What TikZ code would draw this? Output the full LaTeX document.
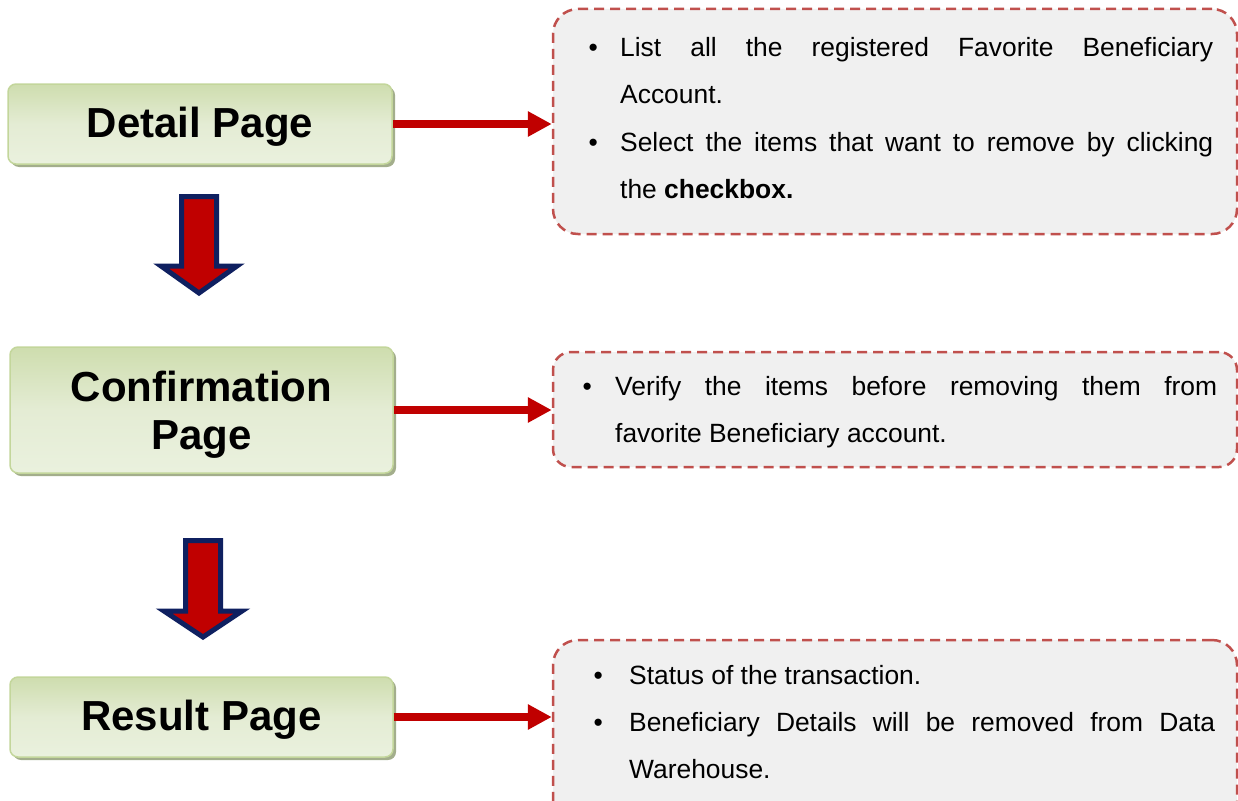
\documentclass[tikz,border=0pt]{standalone}
\usepackage{fontspec}
\setmainfont{Liberation Sans}
\usetikzlibrary{arrows.meta,shadows}
\definecolor{gedge}{HTML}{C3D69B}
\definecolor{gtop}{HTML}{CEDDAE}
\definecolor{gmid}{HTML}{E4ECD4}
\definecolor{gbot}{HTML}{EAF1DE}
\definecolor{gshadow}{HTML}{A3AE8C}
\definecolor{dred}{HTML}{C0504D}
\definecolor{ared}{HTML}{C00000}
\definecolor{navy}{HTML}{0F2060}
\definecolor{boxgray}{HTML}{F0F0F0}
% bullet item: #1 indent, #2 width of text column, #3 text
\newcommand\bitem[3]{\noindent\makebox[#1][l]{\textbullet}\parbox[t]{#2}{\leftskip=0pt\rightskip=0pt\parfillskip=0pt plus 1fil\strut #3\strut}\par}
\tikzset{
  pagebox/.style={rectangle, rounded corners=8pt, draw=gedge, line width=1.5pt,
    top color=gtop, bottom color=gbot, middle color=gmid,
    drop shadow={shadow xshift=3pt, shadow yshift=-3pt, fill=gshadow, opacity=1},
    font=\fontsize{42}{48}\selectfont\bfseries, inner sep=0pt},
  infobox/.style={rectangle, rounded corners=25pt, draw=dred, fill=boxgray,
    line width=2.5pt, dash pattern=on 10pt off 6pt, inner sep=0pt},
  infotext/.style={anchor=north west, inner sep=0pt, align=justify,
    font=\fontsize{26.4}{47}\selectfont},
  redarrow/.style={draw=ared, line width=8pt, -{Triangle[length=24pt,width=24pt]}},
  blockarrow/.style={draw=navy, fill=ared, line width=5pt, line join=miter}
}
\begin{document}
\begin{tikzpicture}[x=1pt,y=-1pt]
\useasboundingbox (0,0) rectangle (1238,800);
\clip (0,0) rectangle (1238,800);
% page boxes
\node[pagebox, minimum width=384pt, minimum height=80pt] (detail) at (200,124) {\raisebox{-3pt}[\height][\depth]{Detail Page}};
\node[pagebox, minimum width=383pt, minimum height=126pt] (confirm) at (201.5,410) {\raisebox{-5.5pt}[\height][\depth]{\begin{tabular}{@{}c@{}}Confirmation\\Page\end{tabular}}};
\node[pagebox, minimum width=383pt, minimum height=80pt] (result) at (201.5,717) {\raisebox{-2.5pt}[\height][\depth]{Result Page}};
% info boxes
\node[infobox, minimum width=684pt, minimum height=225pt] (info1) at (895,121.5) {};
\node[infobox, rounded corners=18pt, minimum width=684pt, minimum height=115pt] (info2) at (895,409.5) {};
\node[infobox, minimum width=684pt, minimum height=190pt] (info3) at (895,735) {};
% info texts
\node[infotext, text width=624.6pt] (t1) at (588.4,23.1) {\parskip=0pt%
\bitem{31.6pt}{593pt}{List all the registered Favorite Beneficiary\linebreak Account.}%
\bitem{31.6pt}{593pt}{Select the items that want to remove by clicking\linebreak the \textbf{checkbox.}}};
\node[infotext, text width=634.6pt] (t2) at (582.4,362.1) {\parskip=0pt%
\bitem{32.6pt}{602pt}{Verify the items before removing them from\linebreak favorite Beneficiary account.}};
\node[infotext, text width=621.6pt] (t3) at (593.4,651.1) {\parskip=0pt%
\bitem{35.6pt}{586pt}{Status of the transaction.}%
\bitem{35.6pt}{586pt}{Beneficiary Details will be removed from Data\linebreak Warehouse.}};
% horizontal arrows
\draw[redarrow] (detail.east) -- (info1.west |- detail.east);
\draw[redarrow] (confirm.east) -- (info2.west |- confirm.east);
\draw[redarrow] (result.east) -- (info3.west |- result.east);
% block arrows
\draw[blockarrow] (181.5,196.5) -- (216.5,196.5) -- (216.5,266) -- (237,266) -- (199,293) -- (161,266) -- (181.5,266) -- cycle;
\draw[blockarrow] (185.5,540.5) -- (220.5,540.5) -- (220.5,611) -- (242,611) -- (203,637) -- (164,611) -- (185.5,611) -- cycle;
\end{tikzpicture}
\end{document}
